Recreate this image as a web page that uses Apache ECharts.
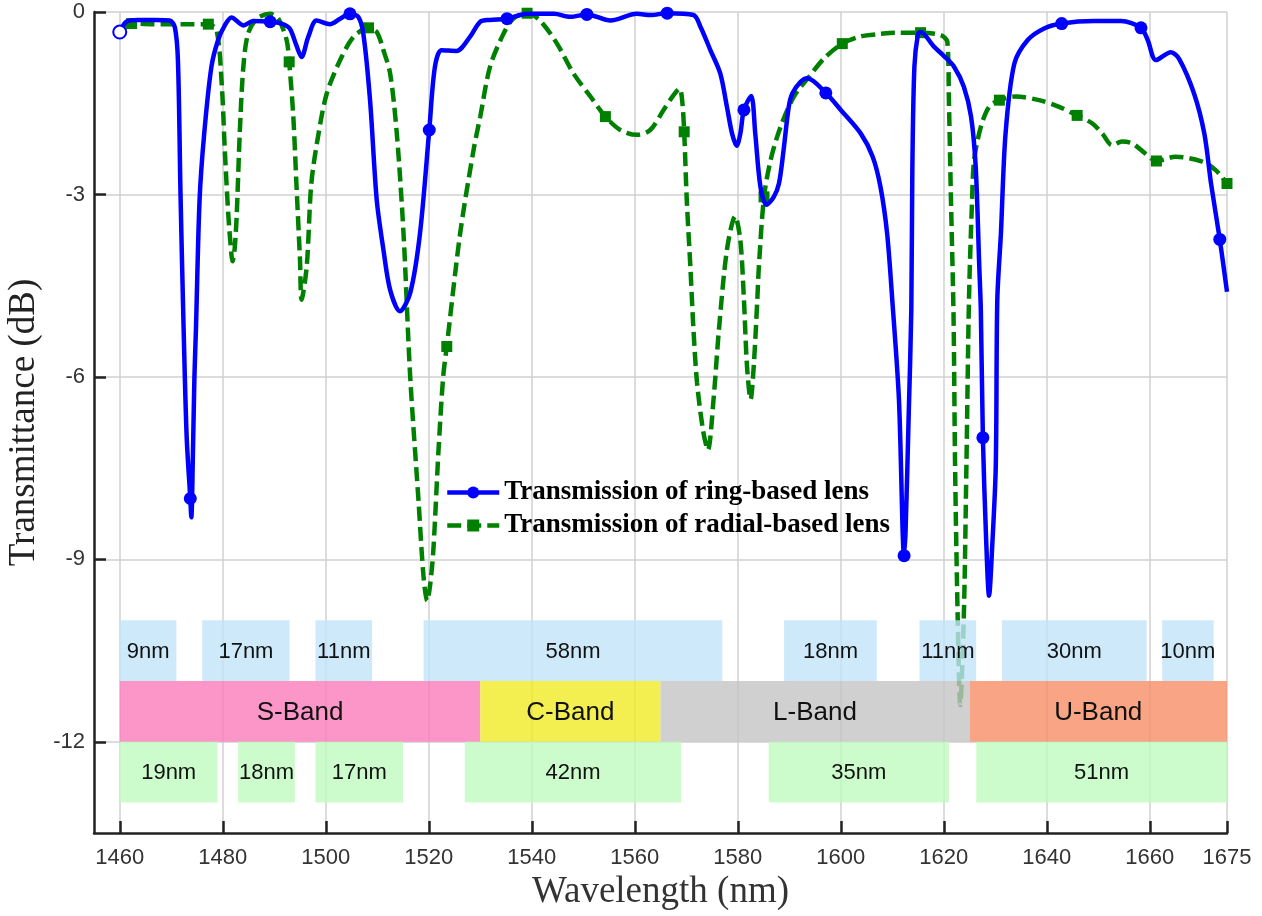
<!DOCTYPE html>
<html>
<head>
<meta charset="utf-8">
<title>Transmittance of ring and radial lenses</title>
<script src="https://cdn.jsdelivr.net/npm/echarts@6/dist/echarts.min.js"></script>
<style>
  html, body { margin: 0; padding: 0; background: #fff; }
  #chart { width: 1262px; height: 916px; }
</style>
</head>
<body>
<div id="chart"></div>
<script>
// axis ticks
const xTicks = [1460, 1480, 1500, 1520, 1540, 1560, 1580, 1600, 1620, 1640, 1660, 1675];
const yTicks = [-12, -9, -6, -3, 0];

// ring-based lens, [wavelength nm, dB]
const ringCurve = [
  [1460.0, -0.33], [1461.3, -0.16], [1463.5, -0.13], [1467.0, -0.13], [1469.7, -0.14],
  [1470.7, -0.25], [1471.3, -0.8], [1471.8, -3.0], [1472.4, -5.2], [1473.0, -7.0],
  [1473.7, -8.0], [1473.9, -8.31], [1474.2, -7.3], [1474.5, -6.0], [1474.8, -5.2],
  [1475.5, -3.09], [1476.4, -2.0], [1477.8, -0.9], [1479.1, -0.46], [1480.4, -0.22],
  [1481.7, -0.09], [1484.0, -0.22], [1485.9, -0.15], [1489.2, -0.16], [1491.4, -0.19],
  [1493.0, -0.27], [1494.3, -0.55], [1495.3, -0.74], [1496.6, -0.41], [1498.2, -0.14],
  [1500.8, -0.2], [1502.8, -0.11], [1504.7, -0.03], [1506.3, -0.08], [1507.3, -0.36],
  [1508.6, -1.45], [1509.9, -3.09], [1511.2, -3.91], [1512.5, -4.57], [1514.4, -4.92],
  [1516.4, -4.62], [1518.3, -3.64], [1520.1, -1.94], [1521.2, -0.9], [1522.5, -0.63],
  [1525.4, -0.64], [1528.0, -0.41], [1530.0, -0.16], [1531.9, -0.13], [1535.2, -0.11],
  [1539.1, -0.03], [1544.3, -0.03], [1547.5, -0.08], [1550.7, -0.04], [1555.3, -0.14],
  [1560.4, -0.03], [1563.1, -0.05], [1566.3, -0.02], [1571.4, -0.05], [1572.8, -0.25],
  [1574.7, -0.63], [1576.6, -1.01], [1577.9, -1.56], [1578.9, -2.0], [1579.8, -2.2],
  [1580.5, -2.0], [1581.2, -1.61], [1582.6, -1.38], [1583.4, -2.0], [1584.4, -2.87],
  [1585.6, -3.17], [1587.0, -3.04], [1588.0, -2.82], [1588.9, -2.27], [1589.9, -1.56],
  [1590.6, -1.34], [1592.2, -1.15], [1593.5, -1.09], [1597.1, -1.33], [1600.0, -1.61],
  [1603.9, -2.0], [1606.2, -2.38], [1607.7, -2.87], [1609.0, -3.64], [1610.0, -4.73],
  [1611.3, -6.37], [1612.3, -8.94], [1612.6, -8.5], [1613.2, -6.6], [1613.7, -4.9],
  [1613.9, -2.6], [1614.3, -0.9], [1615.0, -0.36], [1615.5, -0.33], [1618.1, -0.57],
  [1620.0, -0.72], [1622.0, -0.9], [1623.9, -1.23], [1625.3, -1.72], [1626.2, -2.54],
  [1626.9, -4.19], [1627.2, -4.9], [1627.6, -7.0], [1628.2, -8.6], [1628.8, -9.6],
  [1629.4, -8.8], [1630.1, -7.47], [1630.4, -4.73], [1631.1, -3.64], [1632.0, -2.0],
  [1633.7, -0.85], [1636.3, -0.46], [1639.5, -0.27], [1642.9, -0.19], [1649.2, -0.15],
  [1654.4, -0.15], [1658.3, -0.26], [1659.6, -0.46], [1661.2, -0.79], [1664.1, -0.66],
  [1665.7, -0.77], [1668.6, -1.34], [1670.6, -2.0], [1671.9, -2.82], [1673.6, -3.74],
  [1675.0, -4.6]
];
const ringMarkers = [1460.0, 1473.7, 1489.2, 1504.7, 1520.1, 1535.2, 1550.7, 1566.3,
  1581.2, 1597.1, 1612.3, 1627.6, 1642.9, 1658.3, 1673.6];

// radial-based lens, [wavelength nm, dB]
const radialCurve = [
  [1460.3, -0.25], [1462.3, -0.19], [1466.0, -0.2], [1470.0, -0.2], [1474.0, -0.2],
  [1477.2, -0.2], [1478.8, -0.3], [1479.8, -1.18], [1480.4, -2.27], [1481.1, -3.36],
  [1481.7, -4.0], [1481.9, -4.1], [1482.3, -3.9], [1482.7, -3.36], [1483.3, -2.0],
  [1484.0, -0.9], [1484.9, -0.36], [1486.6, -0.11], [1489.2, -0.03], [1490.8, -0.11],
  [1492.4, -0.46], [1492.9, -0.82], [1493.7, -1.72], [1494.3, -2.82], [1495.0, -4.08],
  [1495.3, -4.73], [1496.3, -4.19], [1497.2, -2.82], [1498.6, -2.0], [1500.2, -1.34],
  [1502.8, -0.79], [1505.4, -0.41], [1508.3, -0.26], [1509.9, -0.33], [1511.2, -0.63],
  [1512.5, -1.01], [1513.8, -2.0], [1515.1, -3.64], [1516.4, -6.0], [1518.0, -8.02],
  [1519.0, -9.3], [1519.7, -9.68], [1520.3, -9.4], [1520.9, -8.84], [1521.9, -7.2],
  [1522.8, -6.0], [1523.5, -5.5], [1526.1, -3.64], [1528.7, -2.27], [1530.0, -1.72],
  [1531.9, -0.9], [1534.5, -0.36], [1536.4, -0.11], [1539.1, -0.02], [1541.6, -0.14],
  [1544.9, -0.52], [1548.1, -1.01], [1551.4, -1.39], [1554.3, -1.72], [1557.2, -1.94],
  [1560.4, -2.02], [1563.0, -1.94], [1565.6, -1.61], [1567.5, -1.37], [1568.7, -1.26],
  [1569.2, -1.45], [1569.6, -1.97], [1570.1, -3.09], [1570.8, -4.19], [1571.4, -5.22],
  [1572.1, -6.1], [1573.3, -6.9], [1574.2, -7.2], [1575.3, -6.37], [1576.3, -5.27],
  [1577.9, -3.91], [1579.5, -3.36], [1580.5, -3.75], [1581.2, -4.73], [1581.8, -5.83],
  [1582.5, -6.37], [1583.1, -5.83], [1583.8, -4.73], [1584.1, -4.19], [1585.1, -3.04],
  [1586.4, -2.43], [1588.3, -1.89], [1590.9, -1.39], [1593.8, -1.07], [1596.7, -0.77],
  [1600.3, -0.52], [1603.9, -0.4], [1607.7, -0.36], [1610.3, -0.34], [1615.5, -0.34],
  [1619.4, -0.38], [1620.7, -0.49], [1621.0, -1.45], [1621.4, -3.09], [1621.9, -5.0],
  [1622.2, -7.47], [1622.7, -9.93], [1623.2, -11.4], [1623.9, -9.93], [1624.4, -7.47],
  [1624.9, -4.73], [1625.5, -3.09], [1625.9, -2.43], [1627.2, -1.89], [1628.8, -1.56],
  [1630.8, -1.45], [1634.0, -1.39], [1638.5, -1.45], [1642.4, -1.56], [1645.9, -1.7],
  [1648.8, -1.83], [1650.8, -2.0], [1652.7, -2.19], [1654.6, -2.13], [1656.6, -2.16],
  [1659.2, -2.33], [1661.3, -2.45], [1665.0, -2.38], [1670.2, -2.46], [1672.8, -2.6],
  [1675.0, -2.82]
];
const radialMarkers = [1462.3, 1477.2, 1492.9, 1508.3, 1523.5, 1539.1, 1554.3, 1569.6,
  1585.1, 1600.3, 1615.5, 1630.8, 1645.9, 1661.3, 1675.0];

// stop-band boxes: [from nm, to nm, label]
const ringGaps = [
  [1460, 1471, '9nm'], [1476, 1493, '17nm'], [1498, 1509, '11nm'], [1519, 1577, '58nm'],
  [1589, 1607, '18nm'], [1615.3, 1626.3, '11nm'], [1631.3, 1659.4, '30nm'], [1662.4, 1672.4, '10nm']
];
const radialGaps = [
  [1460, 1479, '19nm'], [1483, 1494, '18nm'], [1498, 1515, '17nm'], [1527, 1569, '42nm'],
  [1586, 1621, '35nm'], [1626.3, 1675, '51nm']
];
const bands = [
  [1460, 1530, 'S-Band'], [1530, 1565, 'C-Band'], [1565, 1625, 'L-Band'], [1625, 1675, 'U-Band']
];
// dB levels of the three rows: [bottom, top]
const ringRow = [-11, -10];
const bandRow = [-12, -11];
const radialRow = [-13, -12];

const bandColors = ['#fc7cba', '#f0eb24', '#c4c4c4', '#f88f67'];
const ringGapColor = '#c2e4f9';
const radialGapColor = '#bffbbf';

const chart = echarts.init(document.getElementById('chart'));

function boxSeries(name, boxes, row, colorOf, fontSize) {
  return {
    name: name,
    type: 'custom',
    z: 10,
    silent: true,
    data: boxes.map(b => [b[0], b[1], row[0], row[1]]),
    renderItem: function (params, api) {
      const tl = api.coord([api.value(0), api.value(3)]);
      const br = api.coord([api.value(1), api.value(2)]);
      const box = boxes[params.dataIndex];
      return {
        type: 'group',
        children: [
          {
            type: 'rect',
            shape: { x: tl[0], y: tl[1], width: br[0] - tl[0], height: br[1] - tl[1] },
            style: { fill: colorOf(params.dataIndex), opacity: 0.8 }
          },
          {
            type: 'text',
            style: {
              text: box[2],
              x: (tl[0] + br[0]) / 2,
              y: (tl[1] + br[1]) / 2 + 1,
              align: 'center',
              verticalAlign: 'middle',
              fill: '#111',
              font: fontSize + 'px "Liberation Sans", Arial, sans-serif'
            }
          }
        ]
      };
    }
  };
}

const markerSize = (list, size) => function (v) {
  return list.indexOf(v[0]) >= 0 ? size : 0;
};

const serif = '"Liberation Serif", "Times New Roman", serif';
const sans = '"Liberation Sans", Arial, sans-serif';

const option = {
  animation: false,
  backgroundColor: '#fff',
  grid: { left: 94, right: 35, top: 12, bottom: 83, containLabel: false, outerBoundsMode: 'none' },
  legend: {
    data: ['Transmission of ring-based lens', 'Transmission of radial-based lens'],
    orient: 'vertical',
    left: 440,
    top: 474,
    itemWidth: 52,
    itemHeight: 15,
    itemGap: 6,
    selectedMode: false,
    lineStyle: { width: 4.5 },
    textStyle: { fontFamily: serif, fontWeight: 'bold', fontSize: 27, color: '#000' }
  },
  xAxis: {
    type: 'value',
    min: 1455,
    max: 1675,
    name: 'Wavelength (nm)',
    nameLocation: 'middle',
    nameGap: 38,
    nameTextStyle: { fontFamily: serif, fontSize: 37, color: '#333' },
    axisLine: { show: true, onZero: false, lineStyle: { color: '#222', width: 2.5 } },
    axisTick: { show: true, inside: true, length: 12, customValues: xTicks, lineStyle: { color: '#222', width: 2.5 } },
    axisLabel: {
      customValues: xTicks, margin: 14, fontFamily: sans, fontSize: 22, color: '#333',
      formatter: v => String(v)
    },
    splitLine: { show: true, lineStyle: { color: '#d0d0d0', width: 1.5 } }
  },
  yAxis: {
    type: 'value',
    min: -13.5,
    max: 0,
    name: 'Transmittance (dB)',
    nameLocation: 'middle',
    nameGap: 50,
    nameTextStyle: { fontFamily: serif, fontSize: 37, color: '#222' },
    axisLine: { show: true, onZero: false, lineStyle: { color: '#222', width: 2.5 } },
    axisTick: { show: true, inside: true, length: 12, customValues: yTicks, lineStyle: { color: '#222', width: 2.5 } },
    axisLabel: { customValues: yTicks, margin: 9, fontFamily: sans, fontSize: 22, color: '#333' },
    splitLine: { show: true, lineStyle: { color: '#d0d0d0', width: 1.5 } }
  },
  series: [
    {
      name: 'Transmission of ring-based lens',
      type: 'line',
      z: 4,
      smooth: 0.3,
      symbol: 'circle',
      symbolSize: markerSize(ringMarkers, 13),
      showSymbol: true,
      color: '#0000ff',
      lineStyle: { color: '#0000ff', width: 4.5 },
      itemStyle: { color: '#0000ff' },
      data: ringCurve.map((p, i) => i === 0
        ? { value: p, symbol: 'emptyCircle', itemStyle: { color: '#0000ff', borderWidth: 2.5 } }
        : p)
    },
    {
      name: 'Transmission of radial-based lens',
      type: 'line',
      z: 3,
      smooth: 0.3,
      symbol: 'rect',
      symbolSize: markerSize(radialMarkers, 11),
      showSymbol: true,
      color: '#008000',
      lineStyle: { color: '#008000', width: 4.5, type: [14, 6] },
      itemStyle: { color: '#008000' },
      data: radialCurve
    },
    boxSeries('ringGaps', ringGaps, ringRow, () => ringGapColor, 22),
    boxSeries('bands', bands, bandRow, i => bandColors[i], 26),
    boxSeries('radialGaps', radialGaps, radialRow, () => radialGapColor, 22)
  ]
};

chart.setOption(option);
</script>
</body>
</html>
